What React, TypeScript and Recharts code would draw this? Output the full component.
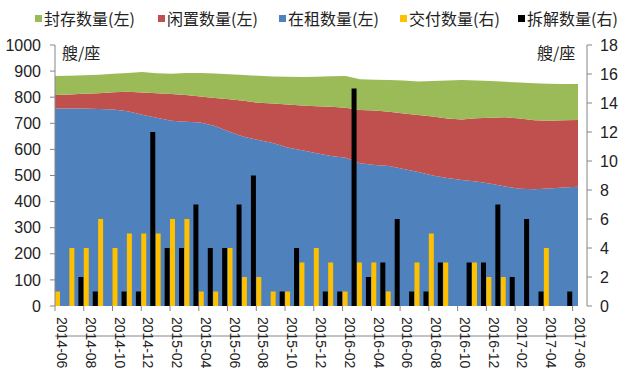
import React from "react";
import { ComposedChart, Area, Bar, XAxis, YAxis } from "recharts";

const months = [
  "2014-06", "2014-07", "2014-08", "2014-09", "2014-10", "2014-11", "2014-12",
  "2015-01", "2015-02", "2015-03", "2015-04", "2015-05", "2015-06", "2015-07",
  "2015-08", "2015-09", "2015-10", "2015-11", "2015-12", "2016-01", "2016-02",
  "2016-03", "2016-04", "2016-05", "2016-06", "2016-07", "2016-08", "2016-09",
  "2016-10", "2016-11", "2016-12", "2017-01", "2017-02", "2017-03", "2017-04",
  "2017-05", "2017-06",
];

// 在租数量 (left axis)
const inService = [
  757, 757, 757, 755, 753, 746, 733, 721, 710, 706, 703, 690, 668, 648, 636, 625,
  607, 597, 585, 575, 568, 547, 540, 536, 525, 513, 500, 490, 483, 477, 468, 458,
  449, 447, 450, 454, 457,
];
// 闲置数量 (left axis)
const idle = [
  51, 53, 56, 60, 66, 75, 85, 94, 102, 102, 100, 107, 124, 138, 143, 151, 165, 171,
  180, 188, 192, 204, 209, 208, 213, 219, 226, 228, 232, 242, 253, 265, 269, 265,
  260, 258, 256,
];
// 封存数量 (left axis)
const laidUp = [
  73, 72, 71, 71, 71, 72, 79, 77, 78, 85, 90, 94, 96, 99, 103, 103, 106, 109, 113,
  117, 121, 118, 118, 122, 126, 128, 136, 146, 151, 145, 141, 136, 138, 141, 142,
  139, 138,
];
// 交付数量 (right axis)
const delivered = [
  1, 4, 4, 6, 4, 5, 5, 5, 6, 6, 1, 1, 4, 2, 2, 1, 1, 3, 4, 3, 1, 3, 3, 1, 0, 3, 5,
  3, 0, 3, 2, 2, 0, 0, 4, 0, 0,
];
// 拆解数量 (right axis)
const scrapped = [
  0, 2, 1, 0, 1, 1, 12, 4, 4, 7, 4, 4, 7, 9, 0, 1, 4, 0, 1, 1, 15, 2, 3, 6, 1, 1, 3,
  0, 3, 3, 7, 2, 6, 1, 0, 1, 0,
];

const leftTicks = [0, 100, 200, 300, 400, 500, 600, 700, 800, 900, 1000];
const rightTicks = [0, 2, 4, 6, 8, 10, 12, 14, 16, 18];

const legendItems = [
  { name: "封存数量(左)", color: "#9BBB59", left: 35 },
  { name: "闲置数量(左)", color: "#C0504D", left: 158 },
  { name: "在租数量(左)", color: "#4F81BD", left: 279 },
  { name: "交付数量(右)", color: "#FFC000", left: 400 },
  { name: "拆解数量(右)", color: "#000000", left: 518 },
];

const data = months.map((m, i) => ({
  month: m,
  inService: inService[i],
  idle: idle[i],
  laidUp: laidUp[i],
  delivered: delivered[i],
  scrapped: scrapped[i],
}));

const W = 640;
const H = 375;
const margin = { top: 45, right: 8, bottom: 4, left: 5 };
const LEFT_W = 50;
const RIGHT_W = 45;
const X_H = 65;
const PLOT_BOTTOM = H - margin.bottom - X_H;
const AXIS_GREY = "#868686";
const NUM_FONT = "'Liberation Sans', Arial, sans-serif";
const CJK_FONT = "'Noto Sans CJK SC', 'Noto Sans', sans-serif";

// month labels every 2 months, tick marks sit on category boundaries
function MonthTick(props: any) {
  const { x, payload } = props;
  const half = (W - margin.left - margin.right - LEFT_W - RIGHT_W) / months.length / 2;
  const y = PLOT_BOTTOM;
  return (
    <g>
      <line x1={x - half} x2={x - half} y1={y} y2={y + 5} stroke={AXIS_GREY} />
      <text
        x={x}
        y={y + 11}
        transform={`rotate(90, ${x}, ${y + 11})`}
        textAnchor="start"
        dominantBaseline="central"
        fontSize={14}
        fontFamily={NUM_FONT}
        fill="#222"
      >
        {payload.value}
      </text>
    </g>
  );
}

export default function App() {
  return (
    <div style={{ position: "absolute", left: 0, top: 0, width: W, height: H, background: "#fff" }}>
      <ComposedChart width={W} height={H} data={data} margin={margin}>
        <XAxis
          xAxisId="bar"
          dataKey="month"
          interval={1}
          tickLine={false}
          tickSize={0}
          tickMargin={0}
          height={X_H}
          axisLine={{ stroke: AXIS_GREY }}
          tick={<MonthTick />}
        />
        <XAxis xAxisId="area" dataKey="month" scale="point" padding={{ left: 0, right: 9 }} hide />
        <YAxis
          yAxisId="left"
          domain={[0, 1000]}
          ticks={leftTicks}
          interval={0}
          width={LEFT_W}
          tickSize={5}
          tickMargin={9}
          axisLine={{ stroke: AXIS_GREY }}
          tickLine={{ stroke: AXIS_GREY }}
          tick={{ fontSize: 16, fill: "#222", fontFamily: NUM_FONT }}
        />
        <YAxis
          yAxisId="right"
          orientation="right"
          domain={[0, 18]}
          ticks={rightTicks}
          interval={0}
          width={RIGHT_W}
          tickSize={5}
          tickMargin={8}
          axisLine={{ stroke: AXIS_GREY }}
          tickLine={{ stroke: AXIS_GREY }}
          tick={{ fontSize: 16, fill: "#222", fontFamily: NUM_FONT }}
        />
        <Area
          xAxisId="area"
          yAxisId="left"
          dataKey="inService"
          stackId="fleet"
          type="linear"
          stroke="none"
          fill="#4F81BD"
          fillOpacity={1}
          isAnimationActive={false}
        />
        <Area
          xAxisId="area"
          yAxisId="left"
          dataKey="idle"
          stackId="fleet"
          type="linear"
          stroke="none"
          fill="#C0504D"
          fillOpacity={1}
          isAnimationActive={false}
        />
        <Area
          xAxisId="area"
          yAxisId="left"
          dataKey="laidUp"
          stackId="fleet"
          type="linear"
          stroke="none"
          fill="#9BBB59"
          fillOpacity={1}
          isAnimationActive={false}
        />
        <Bar
          xAxisId="bar"
          yAxisId="right"
          dataKey="delivered"
          fill="#FFC000"
          barSize={5}
          isAnimationActive={false}
        />
        <Bar
          xAxisId="bar"
          yAxisId="right"
          dataKey="scrapped"
          fill="#000000"
          barSize={5}
          isAnimationActive={false}
        />
      </ComposedChart>

      {/* legend */}
      {legendItems.map((it) => (
        <div
          key={it.name}
          style={{
            position: "absolute",
            left: it.left,
            top: 7,
            height: 22,
            display: "flex",
            alignItems: "center",
            fontFamily: CJK_FONT,
            fontSize: 16,
            color: "#222",
            whiteSpace: "nowrap",
          }}
        >
          <span style={{ display: "inline-block", width: 7, height: 7, background: it.color, marginRight: 2 }} />
          {it.name}
        </div>
      ))}

      {/* unit labels */}
      <div style={{ position: "absolute", left: 62, top: 41, fontFamily: CJK_FONT, fontSize: 16, color: "#222", lineHeight: "22px" }}>
        艘/座
      </div>
      <div style={{ position: "absolute", left: 537, top: 41, fontFamily: CJK_FONT, fontSize: 16, color: "#222", lineHeight: "22px" }}>
        艘/座
      </div>
    </div>
  );
}
